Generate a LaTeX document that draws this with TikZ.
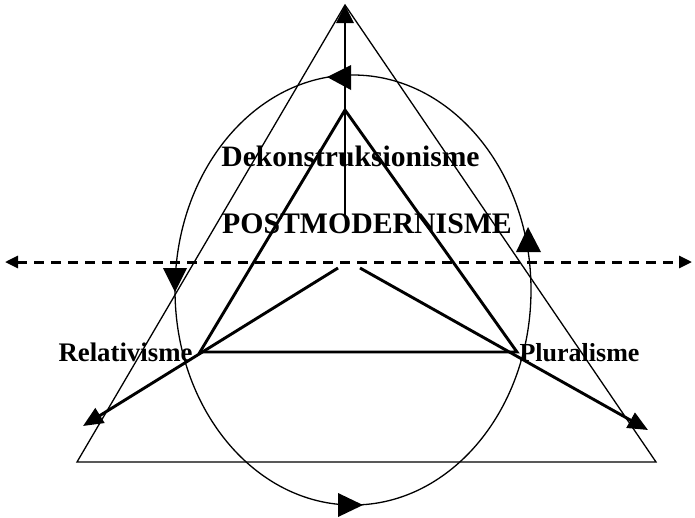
\documentclass[tikz,border=0pt]{standalone}
\usepackage{fontspec}
\setmainfont{Liberation Serif}
\usetikzlibrary{arrows.meta}
\begin{document}
\begin{tikzpicture}[x=1pt,y=-1pt,
  thinline/.style={line width=1.3pt},
  thickline/.style={line width=2.9pt},
  lbl/.style={inner sep=0pt, anchor=base},
  headfill/.style={fill=black, draw=none}]
\useasboundingbox (0,0) rectangle (695,517);
% outer triangle
\coordinate (A) at (345,5);
\coordinate (B) at (77,462);
\coordinate (C) at (656,462);
\draw[thinline, line join=miter] (A) -- (B) -- (C) -- cycle;
% circle (ellipse)
\coordinate (E) at (353,290);
\draw[thinline] (E) ellipse [x radius=178pt, y radius=215pt];
% inner triangle
\coordinate (P) at (345,110);
\coordinate (Q) at (200,352);
\coordinate (R) at (517,352);
\draw[thickline, line join=miter] (P) -- (Q) -- (R) -- cycle;
% vertical arrow
\coordinate (V0) at (345,215);
\draw[thickline, -{Triangle[length=18pt,width=17pt]}] (V0) -- (A);
% diagonal arrows
\coordinate (L0) at (338,268);
\coordinate (L1) at (83,426);
\coordinate (R0) at (360,268);
\coordinate (R1) at (648,430);
\draw[thickline, -{Triangle[length=20pt,width=17pt]}] (L0) -- (L1);
\draw[thickline, -{Triangle[length=20pt,width=17pt]}] (R0) -- (R1);
% dashed horizontal
\coordinate (H0) at (5,262);
\coordinate (H1) at (692,262);
\draw[line width=3pt, dash pattern=on 10pt off 7pt, {Triangle[length=13pt,width=12pt]}-{Triangle[length=13pt,width=12pt]}] (H0) -- (H1);
% arrowheads on the circle
\fill[headfill] (327,77) -- (351,65) -- (351,90) -- cycle;
\fill[headfill] (175,292) -- (163,268) -- (187,268) -- cycle;
\fill[headfill] (528,227) -- (516,252) -- (541,252) -- cycle;
\fill[headfill] (363,505) -- (338,493) -- (338,517) -- cycle;
% labels
\node[lbl, font=\fontsize{29.6}{32}\selectfont\bfseries] (dek) at (350.5,166) {Dekonstruksionisme};
\node[lbl, font=\fontsize{29.8}{32}\selectfont\bfseries] (post) at (367,233) {POSTMODERNISME};
\node[lbl, font=\fontsize{26.8}{30}\selectfont\bfseries] (rel) at (125.5,361) {Relativisme};
\node[lbl, font=\fontsize{26}{30}\selectfont\bfseries] (plu) at (579.5,361) {Pluralisme};
\end{tikzpicture}
\end{document}
